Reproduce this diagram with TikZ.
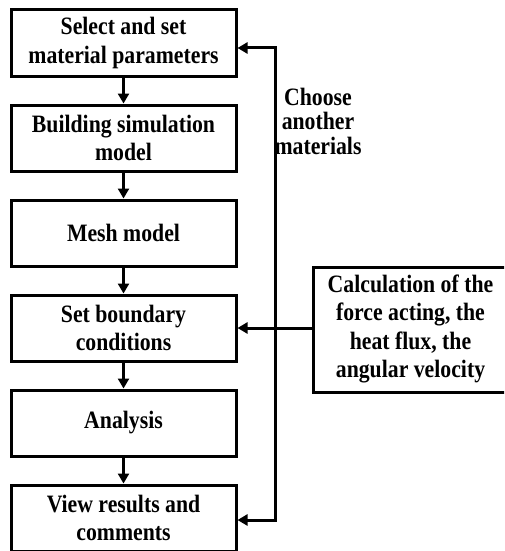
\documentclass[tikz,border=0pt]{standalone}
\usepackage{fontspec}
\setmainfont{Liberation Serif}[FakeStretch=0.87]
\usetikzlibrary{positioning,arrows.meta}

\begin{document}
\begin{tikzpicture}[x=1pt,y=1pt,node distance=95pt,
  font=\fontsize{25}{28.5}\selectfont\bfseries,
  stepbox/.style={draw,line width=3pt,minimum width=225pt,minimum height=66pt,
    align=center,inner sep=0pt},
  flow/.style={-{Triangle[width=11pt,length=10pt]},line width=3pt,line join=miter}]
\useasboundingbox (0,0) rectangle (504,-551);
\clip (0,0) rectangle (504,-551);

\node(sel)   [stepbox] at (123.5,-43)  {Select and set\\material parameters};
\node(build) [stepbox,below of=sel]    {Building simulation\\model};
\node(mesh)  [stepbox,below of=build]  {Mesh model};
\node(bound) [stepbox,below of=mesh]   {Set boundary\\conditions};
\node(ana)   [stepbox,below of=bound]  {Analysis};
\node(view)  [stepbox,below of=ana]    {View results and\\comments};

% right edge runs off the page
\node(calc)  [stepbox,minimum width=260pt,minimum height=125pt] at (443,-329.5)
             {\begin{tabular}{@{}c@{}}Calculation of the\\force acting, the\\
              heat flux, the\\angular velocity\end{tabular}\hspace*{65pt}};
\node(choose) [align=center,font=\fontsize{25}{24.5}\selectfont\bfseries] at (318,-121)
             {Choose\\another\\materials};

\coordinate(fbtop) at (275,-48);
\coordinate(fbbot) at (275,-520);

\draw[flow] (sel)   -- (build);
\draw[flow] (build) -- (mesh);
\draw[flow] (mesh)  -- (bound);
\draw[flow] (bound) -- (ana);
\draw[flow] (ana)   -- (view);
\draw[flow] (calc.west |- bound.east) -- (bound.east);
\draw[flow,{Triangle[width=11pt,length=10pt]}-{Triangle[width=11pt,length=10pt]}]
    (sel.east |- fbtop) -- (fbtop) -- (fbbot) -- (view.east |- fbbot);
\end{tikzpicture}
\end{document}
